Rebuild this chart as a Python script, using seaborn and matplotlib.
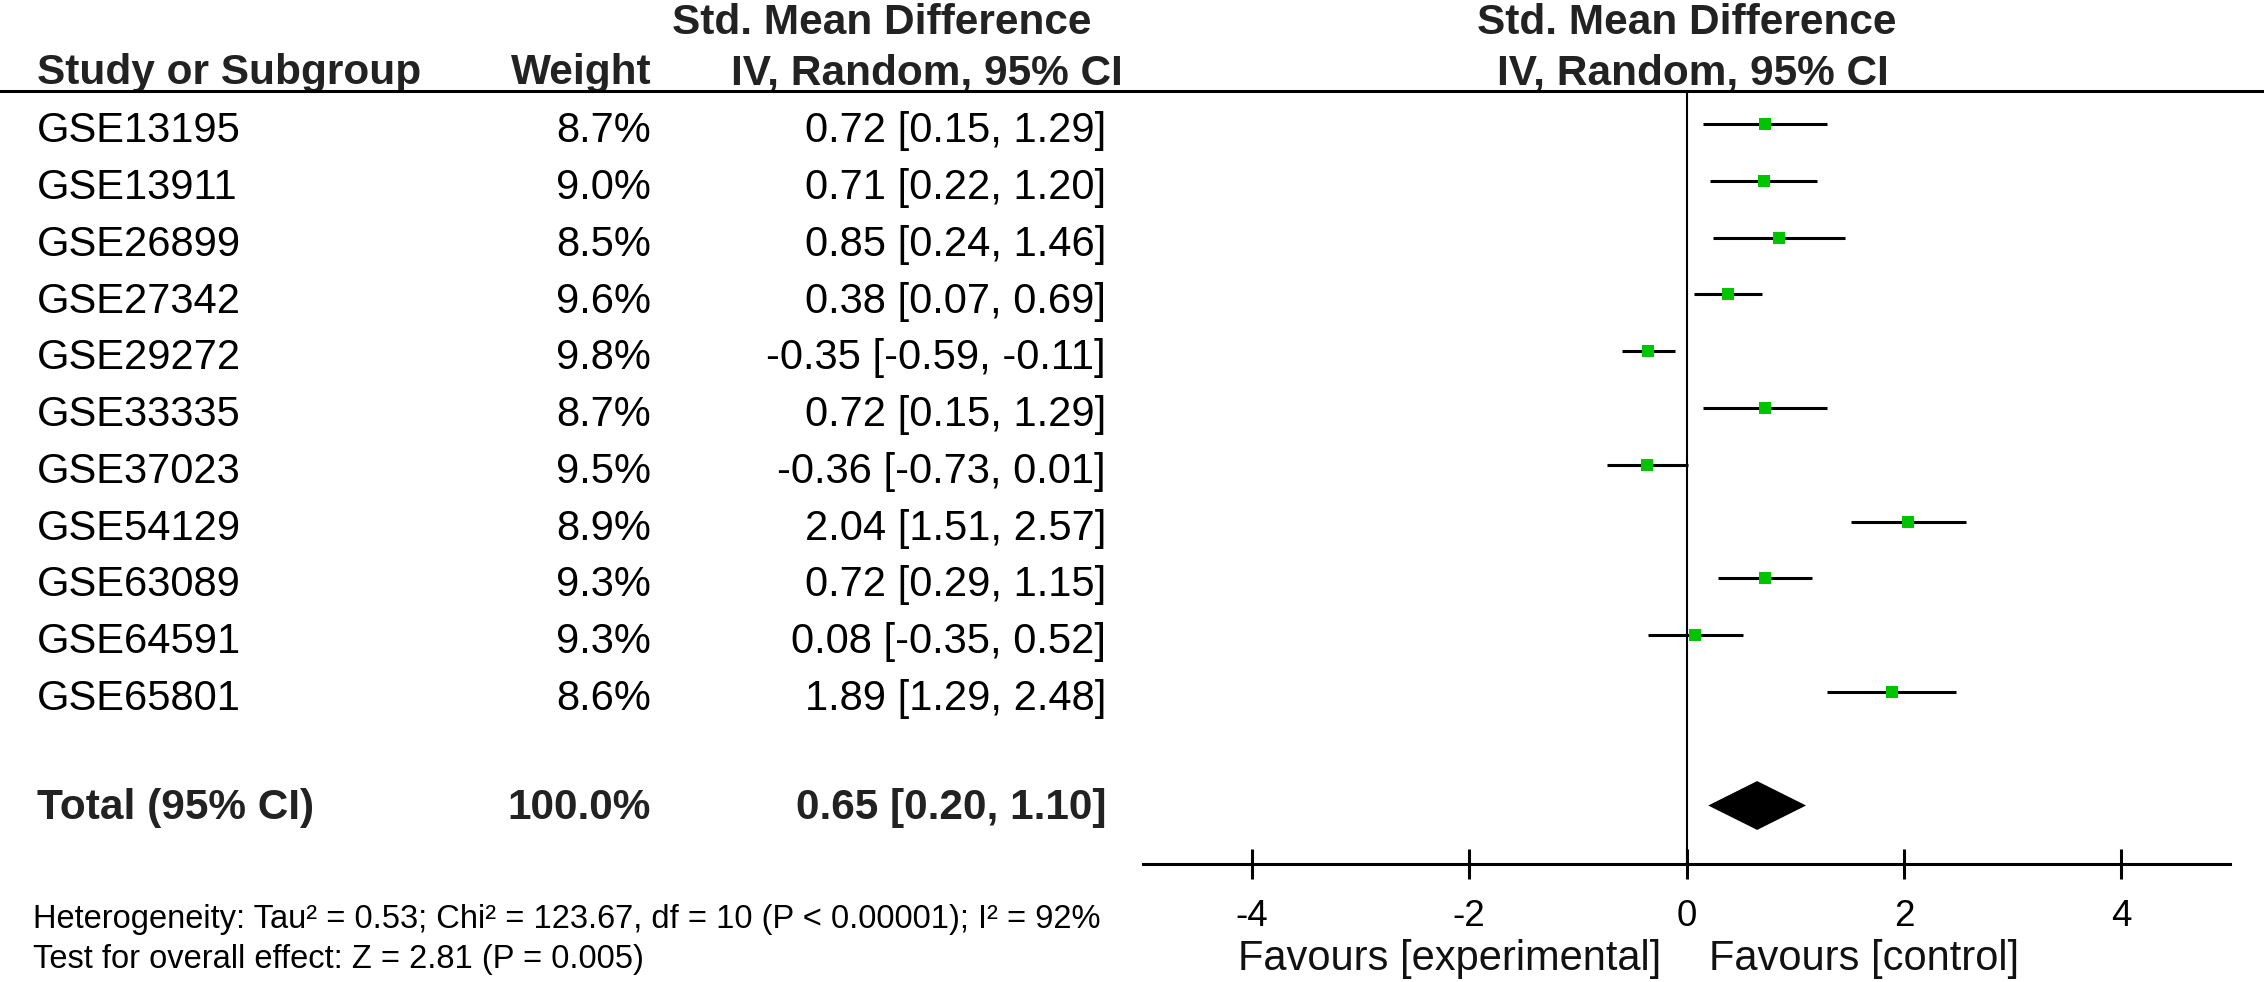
import numpy as np
import pandas as pd
import matplotlib
matplotlib.use("Agg")
import matplotlib.pyplot as plt
import matplotlib.transforms as mtransforms
from matplotlib.lines import Line2D
import seaborn as sns

# ---------------- data ----------------
studies = ["GSE13195", "GSE13911", "GSE26899", "GSE27342", "GSE29272", "GSE33335",
           "GSE37023", "GSE54129", "GSE63089", "GSE64591", "GSE65801"]
weights = [8.7, 9.0, 8.5, 9.6, 9.8, 8.7, 9.5, 8.9, 9.3, 9.3, 8.6]
smd = [0.72, 0.71, 0.85, 0.38, -0.35, 0.72, -0.36, 2.04, 0.72, 0.08, 1.89]
ci_low = [0.15, 0.22, 0.24, 0.07, -0.59, 0.15, -0.73, 1.51, 0.29, -0.35, 1.29]
ci_high = [1.29, 1.20, 1.46, 0.69, -0.11, 1.29, 0.01, 2.57, 1.15, 0.52, 2.48]
total_label = "Total (95% CI)"
total_weight = 100.0
total_smd = 0.65
total_low = 0.20
total_high = 1.10
x_ticks = [-4, -2, 0, 2, 4]
heterogeneity = "Heterogeneity: Tau² = 0.53; Chi² = 123.67, df = 10 (P < 0.00001); I² = 92%"
overall = "Test for overall effect: Z = 2.81 (P = 0.005)"
favours_left = "Favours [experimental]"
favours_right = "Favours [control]"

df = pd.DataFrame({"study": studies, "weight": weights, "smd": smd,
                   "lo": ci_low, "hi": ci_high, "row": np.arange(len(studies))})
total_row = len(studies) + 1

# ---------------- figure ----------------
sns.set_style("white")
plt.rcParams["font.family"] = ["Liberation Sans", "DejaVu Sans"]

W, H = 2264, 982
fig = plt.figure(figsize=(W / 100, H / 100), dpi=100)
ax_left, ax_right = 1143, 2230
top_px, bot_px = 91.0, 864.0
ax = fig.add_axes([ax_left / W, 1 - bot_px / H, (ax_right - ax_left) / W, (bot_px - top_px) / H])
ax.set_xlim(-5, 5)
ax.set_ylim(13.03, -0.58)

# CI lines and markers
ax.hlines(df["row"], df["lo"], df["hi"], color="black", lw=2.2, zorder=2)
sns.scatterplot(data=df, x="smd", y="row", marker="s", color="#00C400", s=85,
                linewidth=0, ax=ax, zorder=3, legend=False)

# pooled diamond
dh = 0.43
ax.fill([total_low, total_smd, total_high, total_smd],
        [total_row, total_row - dh, total_row, total_row + dh],
        color="black", lw=0, zorder=3)

ax.axvline(0, color="black", lw=1.5, zorder=1)

for s in ["top", "left", "right"]:
    ax.spines[s].set_visible(False)
ax.spines["bottom"].set_linewidth(2.2)
ax.spines["bottom"].set_color("black")
ax.set_xticks(x_ticks)
ax.set_xticklabels([str(t) for t in x_ticks])
ax.set_yticks([])
ax.tick_params(axis="x", bottom=True, direction="inout", length=21, width=2.2, color="black",
               labelsize=26.5, pad=15, labelcolor="black")
ax.set_xlabel("")
ax.set_ylabel("")

# favours labels
ax.text(-0.23, 14.89, favours_left, ha="right", va="baseline", fontsize=30,
        color="#111111", clip_on=False)
ax.text(0.21, 14.89, favours_right, ha="left", va="baseline", fontsize=30,
        color="#111111", clip_on=False)

# ---------------- table text ----------------
tr = mtransforms.blended_transform_factory(fig.transFigure, ax.transData)

def t(xpx, y, s, **kw):
    ax.text(xpx / W, y, s, transform=tr, clip_on=False, **kw)

hdr = dict(fontsize=30.5, fontweight="bold", color="#222222", va="baseline")
t(882, -1.58, "Std. Mean Difference", ha="center", **hdr)
t(1687, -1.58, "Std. Mean Difference", ha="center", **hdr)
t(37, -0.70, "Study or Subgroup", ha="left", **hdr)
t(652, -0.70, "Weight", ha="right", **hdr)
t(1123, -0.70, "IV, Random, 95% CI", ha="right", **hdr)
t(1693, -0.70, "IV, Random, 95% CI", ha="center", **hdr)

body = dict(fontsize=30, color="black", va="baseline")
for _, r in df.iterrows():
    yb = r["row"] + 0.32
    t(37, yb, r["study"], ha="left", **body)
    t(651, yb, f"{r['weight']:.1f}%", ha="right", **body)
    t(1106, yb, f"{r['smd']:.2f} [{r['lo']:.2f}, {r['hi']:.2f}]", ha="right", **body)

tot = dict(fontsize=30.5, fontweight="bold", color="#222222", va="baseline")
t(37, total_row + 0.24, total_label, ha="left", **tot)
t(651, total_row + 0.24, f"{total_weight:.1f}%", ha="right", **tot)
t(1106, total_row + 0.24, f"{total_smd:.2f} [{total_low:.2f}, {total_high:.2f}]", ha="right", **tot)

foot = dict(fontsize=23.5, color="black", va="baseline")
t(33, 14.15, heterogeneity, ha="left", **foot)
t(33, 14.86, overall, ha="left", **foot)

# header rule across the full width
fig.add_artist(Line2D([0, 1], [1 - 91 / H, 1 - 91 / H], transform=fig.transFigure,
                      color="black", lw=2.2))

fig.savefig("out.png", dpi=100)
